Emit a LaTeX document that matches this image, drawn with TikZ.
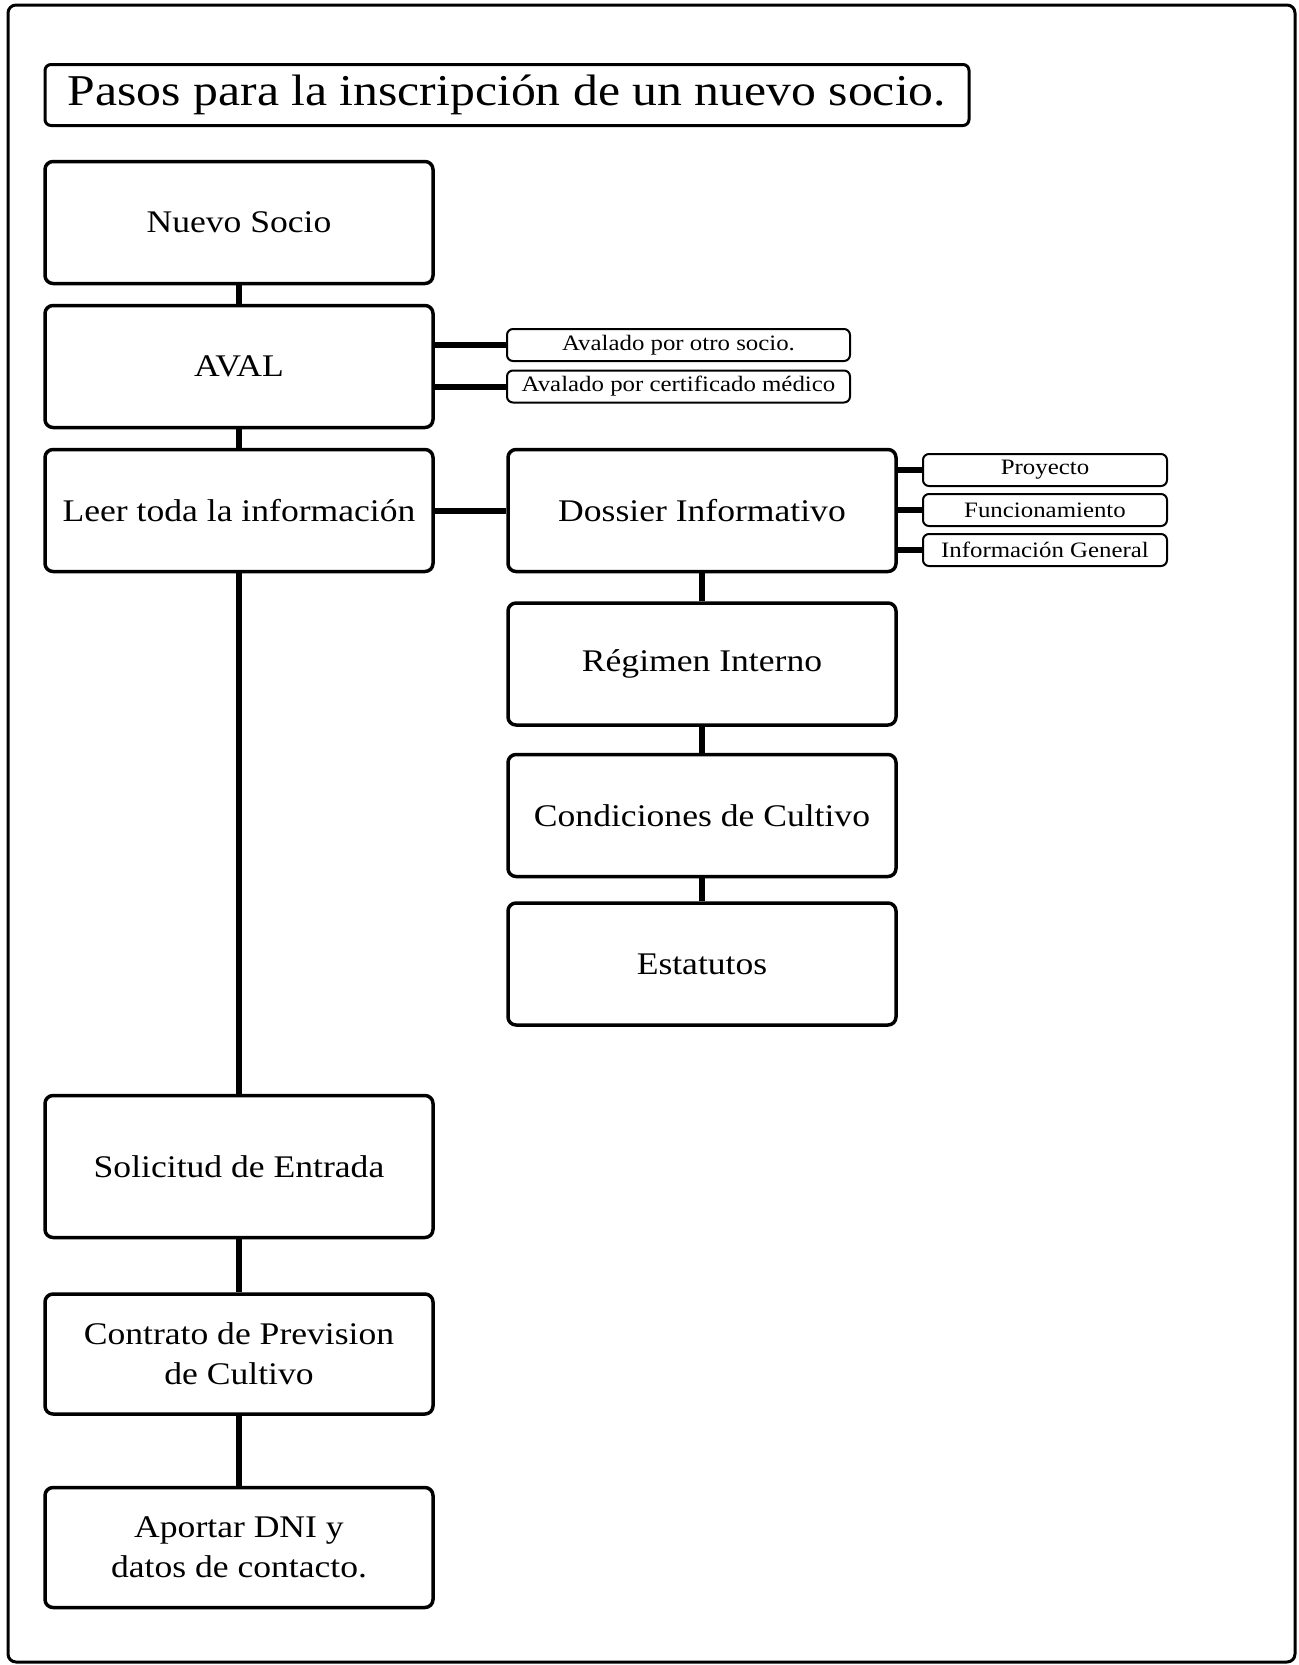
\documentclass[tikz,border=0pt]{standalone}
\usepackage{fontspec}
\setmainfont{Liberation Serif}[FakeStretch=1.13]
\usetikzlibrary{positioning}

\begin{document}
\begin{tikzpicture}[x=0.5pt, y=-0.5pt, line join=round, line cap=butt,
		paso/.style={draw, line width=1.75pt, rounded corners=4pt, align=center, minimum width=194pt, minimum height=61pt, font=\fontsize{15.75}{20}\selectfont},
		nota/.style={draw, line width=1pt, rounded corners=3pt, inner sep=0pt, minimum height=16pt, font=\fontsize{11}{13}\selectfont},
		union/.style={line width=3pt}]
	\useasboundingbox (0,0) rectangle (1299,1665);
	\draw[line width=1.5pt, rounded corners=4pt] (8,5) rectangle (1295,1662);
	% titulo
	\node[draw, line width=1.5pt, rounded corners=3pt, minimum width=462pt, minimum height=30.5pt, font=\fontsize{22}{26}\selectfont] (titulo) at (507,95) {Pasos para la inscripción de un nuevo socio.};
	% columna izquierda
	\node[paso] (nuevo) at (239,222.5) {Nuevo Socio};
	\node[paso] (aval) at (239,366.5) {AVAL};
	\node[paso] (leer) at (239,510.5) {Leer toda la información};
	\node[paso, minimum height=71pt] (solicitud) at (239,1166.5) {Solicitud de Entrada};
	\node[paso, minimum height=60pt] (contrato) at (239,1354) {Contrato de Prevision\\de Cultivo};
	\node[paso, minimum height=60pt] (aportar) at (239,1547.5) {Aportar DNI y\\datos de contacto.};
	% avales
	\node[nota, minimum width=171.5pt] (otro) at (678.5,345) {Avalado por otro socio.};
	\node[nota, minimum width=171.5pt] (medico) at (678.5,386.5) {Avalado por certificado médico};
	% columna derecha
	\node[paso] (dossier) at (702,510.5) {Dossier Informativo};
	\node[paso] (regimen) at (702,664) {Régimen Interno};
	\node[paso] (cultivo) at (702,815.5) {Condiciones de Cultivo};
	\node[paso] (estatutos) at (702,964) {Estatutos};
	% contenido del dossier
	\node[nota, minimum width=122pt] (proyecto) at (1045,470) {Proyecto};
	\node[nota, minimum width=122pt] (funciona) at (1045,510) {Funcionamiento};
	\node[nota, minimum width=122pt] (general) at (1045,550) {Información General};
	% uniones
	\draw[union] (nuevo) -- (aval);
	\draw[union] (aval) -- (leer);
	\draw[union] (leer) -- (solicitud);
	\draw[union] (solicitud) -- (contrato);
	\draw[union] (contrato) -- (aportar);
	\draw[union] (otro.west) -- (otro.west -| aval.east);
	\draw[union] (medico.west) -- (medico.west -| aval.east);
	\draw[union] (leer) -- (dossier);
	\draw[union] (dossier) -- (regimen);
	\draw[union] (regimen) -- (cultivo);
	\draw[union] (cultivo) -- (estatutos);
	\draw[union] (proyecto.west) -- (proyecto.west -| dossier.east);
	\draw[union] (funciona.west) -- (funciona.west -| dossier.east);
	\draw[union] (general.west) -- (general.west -| dossier.east);
\end{tikzpicture}
\end{document}
